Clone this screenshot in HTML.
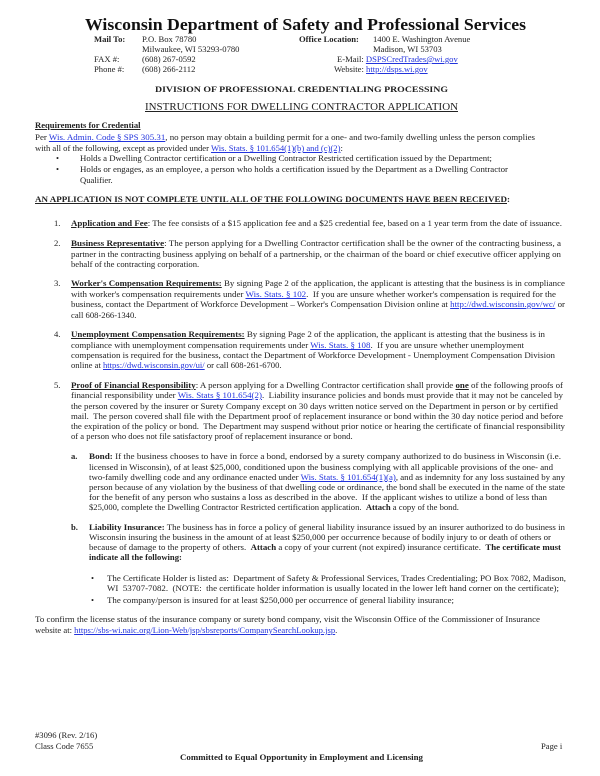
<!DOCTYPE html>
<html><head><meta charset="utf-8"><style>
html,body{margin:0;padding:0;background:#fff;}
body{width:600px;height:776px;position:relative;overflow:hidden;font-family:"Liberation Serif",serif;color:#222;}
.l{position:absolute;white-space:nowrap;font-size:8.6px;line-height:11px;height:11px;}
.l>span.in{display:inline-block;transform-origin:0 0;}
a{color:#2233dd;text-decoration:underline;}
b{font-weight:bold;}
u{text-decoration:underline;}
</style></head><body>

<div class="l" style="left:85px;top:15px;width:441px;font-size:17px;line-height:20px;height:20px;font-weight:bold;color:#111"><span class="in">Wisconsin Department of Safety and Professional Services</span></div>

<div class="l" style="left:94px;top:34px"><b>Mail To:</b></div>
<div class="l" style="left:142px;top:34px">P.O. Box 78780</div>
<div class="l" style="left:142px;top:44px">Milwaukee, WI 53293-0780</div>
<div class="l" style="left:94px;top:54px">FAX #:</div>
<div class="l" style="left:142px;top:54px">(608) 267-0592</div>
<div class="l" style="left:94px;top:64px">Phone #:</div>
<div class="l" style="left:142px;top:64px">(608) 266-2112</div>
<div class="l" style="left:299px;top:34px"><b>Office Location:</b></div>
<div class="l" style="left:373px;top:34px">1400 E. Washington Avenue</div>
<div class="l" style="left:373px;top:44px">Madison, WI 53703</div>
<div class="l" style="left:337px;top:54px">E-Mail: <a>DSPSCredTrades@wi.gov</a></div>
<div class="l" style="left:334px;top:64px">Website: <a>http://dsps.wi.gov</a></div>

<div class="l" style="left:155px;top:84px;width:293px;font-weight:bold"><span class="in">DIVISION OF PROFESSIONAL CREDENTIALING PROCESSING</span></div>
<div class="l" style="left:145px;top:100px;width:313px;font-size:11px;line-height:14px;height:14px"><span class="in"><u>INSTRUCTIONS FOR DWELLING CONTRACTOR APPLICATION</u></span></div>

<div class="l" style="left:35px;top:120px"><b><u>Requirements for Credential</u></b></div>
<div class="l" style="left:35px;top:132px;width:500px"><span class="in">Per <a>Wis. Admin. Code § SPS 305.31</a>, no person may obtain a building permit for a one- and two-family dwelling unless the person complies</span></div>
<div class="l" style="left:35px;top:143px">with all of the following, except as provided under <a>Wis. Stats. § 101.654(1)(b) and (c)(2)</a>:</div>
<div class="l" style="left:56px;top:153px">•</div>
<div class="l" style="left:80px;top:153px;width:412px"><span class="in">Holds a Dwelling Contractor certification or a Dwelling Contractor Restricted certification issued by the Department;</span></div>
<div class="l" style="left:56px;top:164px">•</div>
<div class="l" style="left:80px;top:164px;width:428px"><span class="in">Holds or engages, as an employee, a person who holds a certification issued by the Department as a Dwelling Contractor</span></div>
<div class="l" style="left:80px;top:175px">Qualifier.</div>

<div class="l" style="left:35px;top:194px;width:475px;font-weight:bold"><span class="in"><u>AN APPLICATION IS NOT COMPLETE UNTIL ALL OF THE FOLLOWING DOCUMENTS HAVE BEEN RECEIVED</u>:</span></div>

<div class="l" style="left:54px;top:218px">1.</div>
<div class="l" style="left:71px;top:218px;width:491px"><span class="in"><b><u>Application and Fee</u></b>: The fee consists of a $15 application fee and a $25 credential fee, based on a 1 year term from the date of issuance.</span></div>

<div class="l" style="left:54px;top:238px">2.</div>
<div class="l" style="left:71px;top:238px;width:490px"><span class="in"><b><u>Business Representative</u></b>: The person applying for a Dwelling Contractor certification shall be the owner of the contracting business, a</span></div>
<div class="l" style="left:71px;top:249px;width:490px"><span class="in">partner in the contracting business applying on behalf of a partnership, or the chairman of the board or chief executive officer applying on</span></div>
<div class="l" style="left:71px;top:259px">behalf of the contracting corporation.</div>

<div class="l" style="left:54px;top:278px">3.</div>
<div class="l" style="left:71px;top:278px;width:494px"><span class="in"><b><u>Worker's Compensation Requirements:</u></b> By signing Page 2 of the application, the applicant is attesting that the business is in compliance</span></div>
<div class="l" style="left:71px;top:289px;width:485px"><span class="in">with worker's compensation requirements under <a>Wis. Stats. § 102</a>.&nbsp; If you are unsure whether worker's compensation is required for the</span></div>
<div class="l" style="left:71px;top:299px;width:494px"><span class="in">business, contact the Department of Workforce Development – Worker's Compensation Division online at <a>http://dwd.wisconsin.gov/wc/</a> or</span></div>
<div class="l" style="left:71px;top:310px">call 608-266-1340.</div>

<div class="l" style="left:54px;top:329px">4.</div>
<div class="l" style="left:71px;top:329px;width:474px"><span class="in"><b><u>Unemployment Compensation Requirements:</u></b> By signing Page 2 of the application, the applicant is attesting that the business is in</span></div>
<div class="l" style="left:71px;top:340px;width:453px"><span class="in">compliance with unemployment compensation requirements under <a>Wis. Stats. § 108</a>.&nbsp; If you are unsure whether unemployment</span></div>
<div class="l" style="left:71px;top:350px;width:484px"><span class="in">compensation is required for the business, contact the Department of Workforce Development - Unemployment Compensation Division</span></div>
<div class="l" style="left:71px;top:360px">online at <a>https://dwd.wisconsin.gov/ui/</a> or call 608-261-6700.</div>

<div class="l" style="left:54px;top:380px">5.</div>
<div class="l" style="left:71px;top:380px;width:492px"><span class="in"><b><u>Proof of Financial Responsibility</u></b>: A person applying for a Dwelling Contractor certification shall provide <b><u>one</u></b> of the following proofs of</span></div>
<div class="l" style="left:71px;top:390px;width:492px"><span class="in">financial responsibility under <a>Wis. Stats § 101.654(2)</a>.&nbsp; Liability insurance policies and bonds must provide that it may not be canceled by</span></div>
<div class="l" style="left:71px;top:401px;width:487px"><span class="in">the person covered by the insurer or Surety Company except on 30 days written notice served on the Department in person or by certified</span></div>
<div class="l" style="left:71px;top:411px;width:492px"><span class="in">mail.&nbsp; The person covered shall file with the Department proof of replacement insurance or bond within the 30 day notice period and before</span></div>
<div class="l" style="left:71px;top:421px;width:494px"><span class="in">the expiration of the policy or bond.&nbsp; The Department may suspend without prior notice or hearing the certificate of financial responsibility</span></div>
<div class="l" style="left:71px;top:431px">of a person who does not file satisfactory proof of replacement insurance or bond.</div>

<div class="l" style="left:71px;top:451px"><b>a.</b></div>
<div class="l" style="left:89px;top:451px;width:472px"><span class="in"><b>Bond:</b> If the business chooses to have in force a bond, endorsed by a surety company authorized to do business in Wisconsin (i.e.</span></div>
<div class="l" style="left:89px;top:462px;width:464px"><span class="in">licensed in Wisconsin), of at least $25,000, conditioned upon the business complying with all applicable provisions of the one- and</span></div>
<div class="l" style="left:89px;top:472px;width:476px"><span class="in">two-family dwelling code and any ordinance enacted under <a>Wis. Stats. § 101.654(1)(a)</a>, and as indemnity for any loss sustained by any</span></div>
<div class="l" style="left:89px;top:482px;width:476px"><span class="in">person because of any violation by the business of that dwelling code or ordinance, the bond shall be executed in the name of the state</span></div>
<div class="l" style="left:89px;top:492px;width:458px"><span class="in">for the benefit of any person who sustains a loss as described in the above.&nbsp; If the applicant wishes to utilize a bond of less than</span></div>
<div class="l" style="left:89px;top:502px">$25,000, complete the Dwelling Contractor Restricted certification application.&nbsp; <b>Attach</b> a copy of the bond.</div>

<div class="l" style="left:71px;top:522px"><b>b.</b></div>
<div class="l" style="left:89px;top:522px;width:476px"><span class="in"><b>Liability Insurance:</b> The business has in force a policy of general liability insurance issued by an insurer authorized to do business in</span></div>
<div class="l" style="left:89px;top:532px;width:462px"><span class="in">Wisconsin insuring the business in the amount of at least $250,000 per occurrence because of bodily injury to or death of others or</span></div>
<div class="l" style="left:89px;top:542px;width:472px"><span class="in">because of damage to the property of others.&nbsp; <b>Attach</b> a copy of your current (not expired) insurance certificate.&nbsp; <b>The certificate must</b></span></div>
<div class="l" style="left:89px;top:552px"><b>indicate all the following:</b></div>

<div class="l" style="left:91px;top:573px">•</div>
<div class="l" style="left:107px;top:573px;width:459px"><span class="in">The Certificate Holder is listed as:&nbsp; Department of Safety &amp; Professional Services, Trades Credentialing; PO Box 7082, Madison,</span></div>
<div class="l" style="left:107px;top:583px;width:452px"><span class="in">WI&nbsp; 53707-7082.&nbsp; (NOTE:&nbsp; the certificate holder information is usually located in the lower left hand corner on the certificate);</span></div>
<div class="l" style="left:91px;top:595px">•</div>
<div class="l" style="left:107px;top:595px;width:347px"><span class="in">The company/person is insured for at least $250,000 per occurrence of general liability insurance;</span></div>

<div class="l" style="left:35px;top:614px;width:505px"><span class="in">To confirm the license status of the insurance company or surety bond company, visit the Wisconsin Office of the Commissioner of Insurance</span></div>
<div class="l" style="left:35px;top:625px">website at: <a>https://sbs-wi.naic.org/Lion-Web/jsp/sbsreports/CompanySearchLookup.jsp</a>.</div>

<div class="l" style="left:35px;top:730px">#3096 (Rev. 2/16)</div>
<div class="l" style="left:35px;top:741px">Class Code 7655</div>
<div class="l" style="left:541px;top:741px">Page i</div>
<div class="l" style="left:180px;top:752px;width:243px;font-weight:bold"><span class="in">Committed to Equal Opportunity in Employment and Licensing</span></div>

<script>
document.querySelectorAll('.l').forEach(function(el){
  var w=parseFloat(el.style.width); var s=el.querySelector('span.in');
  if(!w||!s) return;
  var nw=s.getBoundingClientRect().width;
  if(nw>0) s.style.transform='scaleX('+(w/nw)+')';
});
</script>
</body></html>
